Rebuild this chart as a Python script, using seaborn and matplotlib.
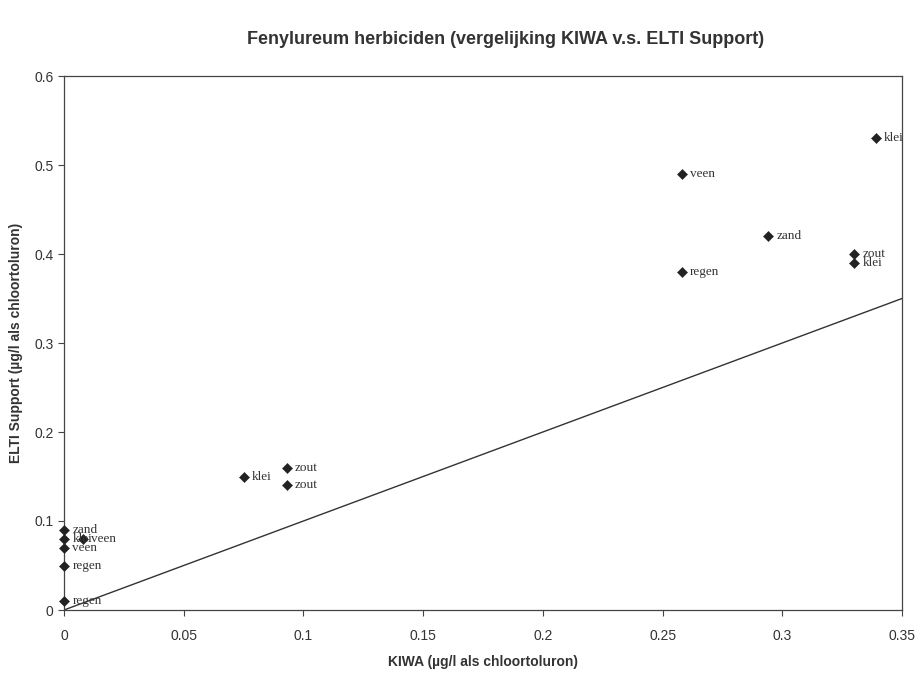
import matplotlib
matplotlib.use("Agg")
import matplotlib.pyplot as plt
import seaborn as sns
import pandas as pd

kiwa = [0.0, 0.0, 0.008, 0.0, 0.0, 0.0, 0.075, 0.093, 0.093, 0.258, 0.258, 0.294, 0.330, 0.330, 0.339]
elti = [0.09, 0.08, 0.08, 0.07, 0.05, 0.01, 0.15, 0.16, 0.14, 0.49, 0.38, 0.42, 0.40, 0.39, 0.53]
labels = ["zand", "klei", "veen", "veen", "regen", "regen", "klei", "zout", "zout", "veen", "regen", "zand", "zout", "klei", "klei"]
line_x = [0.0, 0.35]
line_y = [0.0, 0.35]
xticks = [0, 0.05, 0.1, 0.15, 0.2, 0.25, 0.3, 0.35]
yticks = [0, 0.1, 0.2, 0.3, 0.4, 0.5, 0.6]

df = pd.DataFrame({"KIWA": kiwa, "ELTI": elti, "label": labels})

sns.set_theme(style="white")
plt.rcParams["font.family"] = ["Liberation Sans", "DejaVu Sans"]

fig = plt.figure(figsize=(9.22, 6.74), dpi=100)
ax = fig.add_axes([64/922, 1-610/674, (902-64)/922, (610-76)/674])

sns.lineplot(x=line_x, y=line_y, ax=ax, color="#333333", linewidth=1.0)
sns.scatterplot(data=df, x="KIWA", y="ELTI", ax=ax, marker="D", s=26, color="#222222",
                edgecolor="#222222", zorder=3, clip_on=False)

for x, y, t in zip(kiwa, elti, labels):
    ax.annotate(t, (x, y), xytext=(6, 0), textcoords="offset points", va="center", ha="left",
                fontsize=9.5, family=["Liberation Serif", "DejaVu Serif"], color="#333333")

ax.set_xlim(0, 0.35)
ax.set_ylim(0, 0.6)
ax.set_xticks(xticks)
ax.set_xticklabels([("%g" % v) for v in xticks], fontsize=10, color="#333333")
ax.set_yticks(yticks)
ax.set_yticklabels([("%g" % v) for v in yticks], fontsize=10, color="#333333")
ax.tick_params(axis="both", direction="out", length=4, width=0.8, color="#444444", bottom=True, left=True)
ax.tick_params(axis="x", pad=10)
for s in ax.spines.values():
    s.set_color("#444444")
    s.set_linewidth(0.9)

ax.set_xlabel("KIWA (µg/l als chloortoluron)", fontsize=10, fontweight="bold", color="#333333", labelpad=8)
ax.set_ylabel("ELTI Support (µg/l als chloortoluron)", fontsize=10, fontweight="bold", color="#333333", labelpad=8)
fig.text(506/922, 1-40/674, "Fenylureum herbiciden (vergelijking KIWA v.s. ELTI Support)", ha="center", va="center",
         fontsize=13, fontweight="bold", color="#333333")

fig.savefig("out.png", dpi=100, facecolor="white")
